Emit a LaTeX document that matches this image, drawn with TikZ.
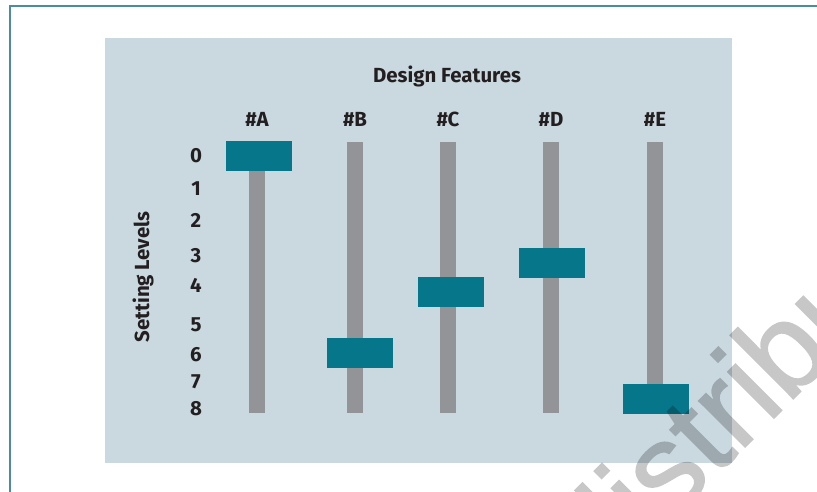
\documentclass[tikz,border=0pt]{standalone}
\usepackage{fontspec}
\setmainfont{Fira Sans}
\newfontfamily\markfont[FakeBold=1.2]{Liberation Sans}
\definecolor{panelblue}{HTML}{CAD9E0}
\definecolor{slidergray}{HTML}{929497}
\definecolor{knobteal}{HTML}{06768A}
\definecolor{frameteal}{HTML}{4B8D9D}
\definecolor{inkdark}{HTML}{231F20}
\tikzset{
  lbl/.style={font=\bfseries\fontsize{20.5}{20.5}\selectfont, text=inkdark, inner sep=0pt},
  track/.style={fill=slidergray, draw=none},
  knob/.style={fill=knobteal, minimum width=66bp, minimum height=30bp, inner sep=0pt},
}
\begin{document}
\begin{tikzpicture}[x=1bp, y=-1bp]
\useasboundingbox (0,0) rectangle (817,492);
\clip (0,0) rectangle (817,492);
\draw[frameteal, line width=2bp] (9.5,520) |- (840,6.5);
\fill[panelblue] (105,38) rectangle (732,463);
%
\node[lbl] (title) at (447,76) {Design Features};
\node[lbl, rotate=90] (axis) at (143,277) {Setting Levels};
\foreach \lev/\y in {0/156, 1/189, 2/220, 3/256, 4/285, 5/325, 6/355, 7/382, 8/409}
  \node[lbl] (lev\lev) at (196,\y) {\lev};
%
\foreach \col/\x/\kx/\ky in {A/257/259/156, B/355/360/353, C/448/451/292, D/551/552/263, E/655/656/399} {
  \node[lbl] (head\col) at (\x,119) {\#\col};
  \fill[track] (\x-8,142) rectangle (\x+8,413);
  \node[knob] (knob\col) at (\kx,\ky) {};
}
%
\begin{scope}[transparency group, opacity=0.22]
\node[font=\markfont\fontsize{124}{124}\selectfont, text=black,
  rotate=45, anchor=base west, inner sep=0pt] (mark) at (603,589) {distribute};
\end{scope}
\end{tikzpicture}
\end{document}
